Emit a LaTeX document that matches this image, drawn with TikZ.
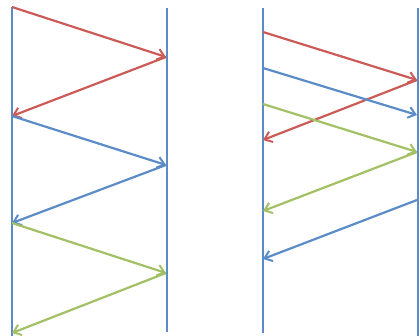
\documentclass[tikz,border=0pt]{standalone}
\usetikzlibrary{arrows.meta}
\definecolor{lblue}{HTML}{5B8CC8}
\definecolor{lred}{HTML}{CC5B58}
\definecolor{lgreen}{HTML}{A2C064}
\tikzset{
  lifeline/.style={draw=lblue, line width=2.6pt},
  msg/.style={line width=2.2pt, -{Straight Barb[length=7pt,width=11pt,line width=2pt]}},
}
\begin{document}
\begin{tikzpicture}[x=1pt,y=-1pt]
\useasboundingbox (0,0) rectangle (420,336);
% left pair
\coordinate (A1) at (12,7);
\coordinate (A2) at (12,336);
\coordinate (B1) at (167,8);
\coordinate (B2) at (167,332);
\draw[lifeline] (A1) -- (A2);
\draw[lifeline] (B1) -- (B2);
\coordinate (a1) at (12,7);
\coordinate (b1) at (166,57);
\coordinate (a2) at (12,116);
\coordinate (b2) at (166,165);
\coordinate (a3) at (12,223);
\coordinate (b3) at (166,273);
\coordinate (a4) at (12,333);
\draw[msg, lred] (a1) -- (b1);
\draw[msg, lred] (b1) -- (a2);
\draw[msg, lblue] (a2) -- (b2);
\draw[msg, lblue] (b2) -- (a3);
\draw[msg, lgreen] (a3) -- (b3);
\draw[msg, lgreen] (b3) -- (a4);
% right pair
\coordinate (C1) at (263,8);
\coordinate (C2) at (263,333);
\coordinate (D1) at (418,8);
\coordinate (D2) at (418,336);
\draw[lifeline] (C1) -- (C2);
\draw[lifeline] (D1) -- (D2);
\coordinate (c1) at (263,32);
\coordinate (d1) at (417,80);
\coordinate (c2) at (263,140);
\coordinate (c3) at (263,68);
\coordinate (d2) at (417,115);
\coordinate (c4) at (263,104);
\coordinate (d3) at (417,152);
\coordinate (c5) at (263,211);
\coordinate (d4) at (417,200);
\coordinate (c6) at (263,259);
\draw[msg, lred] (c1) -- (d1);
\draw[msg, lred] (d1) -- (c2);
\draw[msg, lblue] (c3) -- (d2);
\draw[msg, lgreen] (c4) -- (d3);
\draw[msg, lgreen] (d3) -- (c5);
\draw[msg, lblue] (d4) -- (c6);
\end{tikzpicture}
\end{document}
